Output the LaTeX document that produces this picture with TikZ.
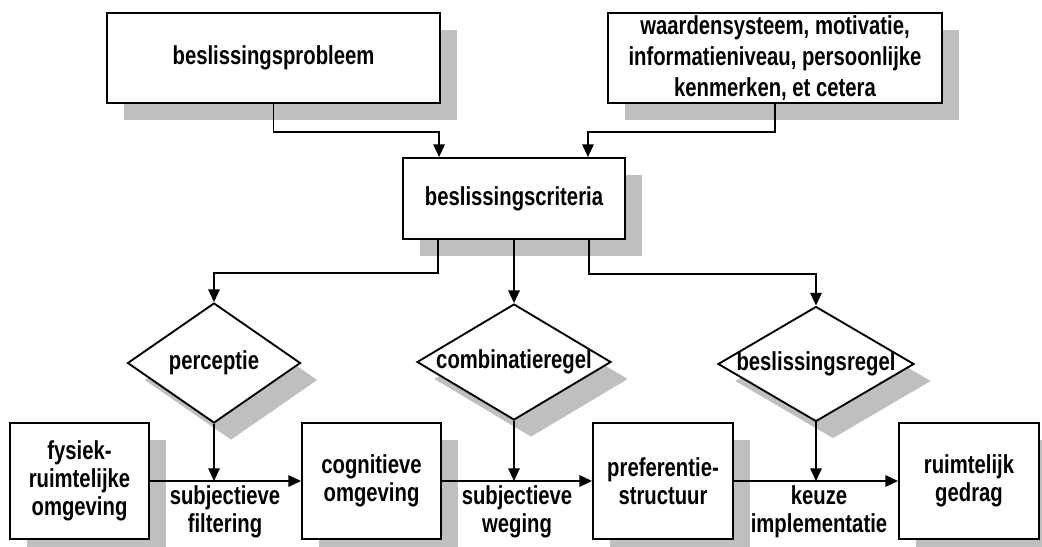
\documentclass[tikz,border=0pt]{standalone}
\usepackage{fontspec}
\newfontfamily\lblfont{Liberation Sans}[FakeStretch=0.78]
\usetikzlibrary{shapes.geometric,shadows,arrows.meta,calc}
\begin{document}
\begin{tikzpicture}[x=0.75pt,y=-0.75pt,
  shade/.style={drop shadow={shadow xshift=12.75pt,shadow yshift=-12.75pt,opacity=1,fill=black!25}},
  txt/.style={font=\lblfont\bfseries\fontsize{19.5pt}{21pt}\selectfont,align=center},
  box/.style={txt,draw,line width=1.4pt,fill=white,shade,inner sep=0pt},
  dia/.style={txt,diamond,draw,line width=1.4pt,fill=white,shade,inner sep=0pt,aspect=1},
  lbl/.style={txt,inner sep=0pt},
  conn/.style={line width=1.4pt,-{Triangle[length=9.5pt,width=8.5pt]}}]
\useasboundingbox[fill=white] (0,0) rectangle (1042,546);

% top row
\node[box,minimum width=249.75pt,minimum height=67.5pt] (prob) at (273.5,58) {beslissingsprobleem};
\node[box,minimum width=250.5pt,minimum height=67.5pt,font=\lblfont\bfseries\fontsize{19.5pt}{23.5pt}\selectfont] (waard) at (775,58)
  {waardensysteem, motivatie,\\informatieniveau, persoonlijke\\kenmerken, et cetera};

% criteria
\node[box,minimum width=166.5pt,minimum height=60.75pt] (crit) at (514,198.5) {beslissingscriteria};

% decision diamonds
\node[dia,minimum width=129.75pt,minimum height=90pt] (perc) at (214,363) {\makebox[0pt]{perceptie}};
\node[dia,minimum width=145.5pt,minimum height=87pt] (comb) at (514,362) {\makebox[0pt]{combinatieregel}};
\node[dia,minimum width=147pt,minimum height=86.25pt] (besl) at (816,364) {\makebox[0pt]{beslissingsregel}};

% bottom row
\node[box,minimum width=104.25pt,minimum height=87pt] (fys) at (79.5,481) {fysiek-\\ruimtelijke\\omgeving};
\node[box,minimum width=104.25pt,minimum height=87pt] (cog) at (371.5,481) {cognitieve\\omgeving};
\node[box,minimum width=105pt,minimum height=87pt] (pref) at (663,481) {preferentie-\\structuur};
\node[box,minimum width=105pt,minimum height=87pt] (ruim) at (969,481) {ruimtelijk\\gedrag};

% labels on the horizontal arrows
\node[lbl] (l1) at (225,512) {subjectieve\\filtering};
\node[lbl] (l2) at (517,512) {subjectieve\\weging};
\node[lbl] (l3) at (819,512) {keuze\\implementatie};

% connectors into the criteria box
\coordinate (critinL) at ($(crit.north west)+(37,0)$);
\coordinate (critinR) at ($(crit.north east)+(-38,0)$);
\draw[conn] (prob.south) -- ++(0,28) -| (critinL);
\draw[conn] (waard.south) -- ++(0,28) -| (critinR);

% connectors from the criteria box to the diamonds
\coordinate (critoutL) at ($(crit.south west)+(36,0)$);
\coordinate (critoutR) at ($(crit.south east)+(-37,0)$);
\draw[conn] (critoutL) -- ++(0,33) -| (perc.north);
\draw[conn] (crit.south) -- (comb.north);
\draw[conn] (critoutR) -- ++(0,34) -| (besl.north);

% main flow
\draw[conn] (fys.east) -- (cog.west);
\draw[conn] (cog.east) -- (pref.west);
\draw[conn] (pref.east) -- (ruim.west);
\draw[conn] (perc.south) -- (perc.south |- fys.east);
\draw[conn] (comb.south) -- (comb.south |- cog.east);
\draw[conn] (besl.south) -- (besl.south |- pref.east);
\end{tikzpicture}
\end{document}
